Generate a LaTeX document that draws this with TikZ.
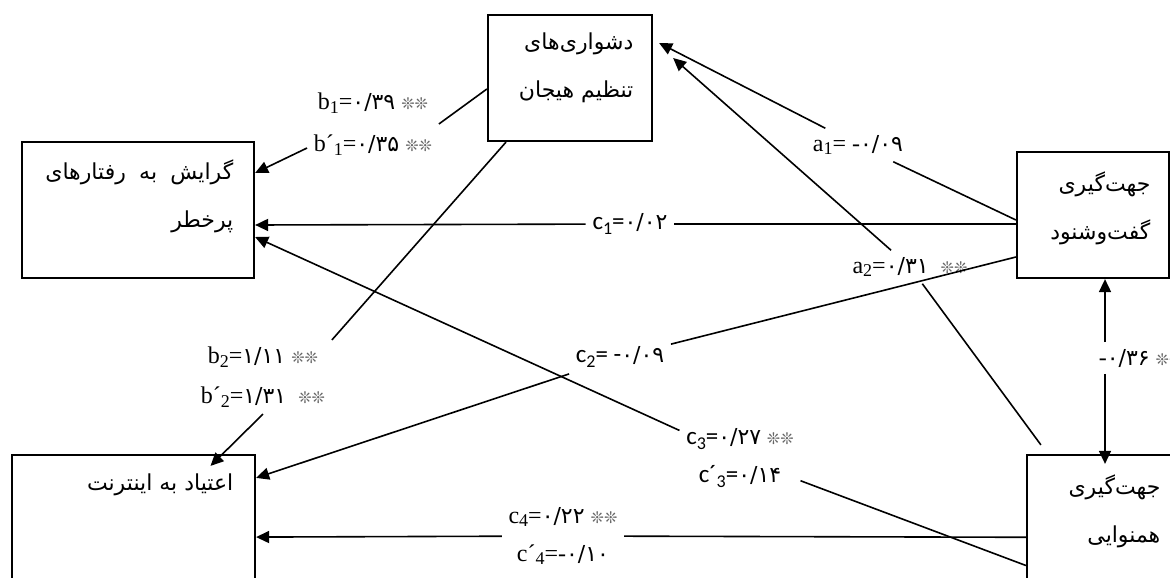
\documentclass[tikz,border=0pt]{standalone}
\usepackage{fontspec}
\setmainfont{Liberation Serif}
\newfontfamily\fafont[Script=Arabic]{DejaVu Sans}
\newfontfamily\calfont{Carlito}
\newfontfamily\starfont{DejaVu Sans}
\TeXXeTstate=1
\usetikzlibrary{positioning,calc,arrows.meta}
\newcommand{\lo}[1]{\raisebox{-0.35ex}{\fontsize{9}{9}\selectfont #1}}
\newcommand{\fanum}[1]{{\fafont\fontsize{11}{11}\selectfont #1}}
\newcommand{\sig}{{\starfont\color{black!60}\fontsize{8}{8}\selectfont ❊❊}}
\tikzset{box/.style  = {rectangle, draw, line width=1.1pt, inner sep=0pt},
         txt/.style  = {inner sep=0pt, align=right, font=\fafont\fontsize{11}{24}\selectfont},
         lab/.style  = {inner sep=3pt, align=center, font=\fontsize{12}{20}\selectfont},
         labc/.style = {lab, font=\calfont\fontsize{12.5}{19}\selectfont}}

\begin{document}
\begin{tikzpicture}[x=0.5pt, y=-0.5pt, line width=0.8pt, >={Triangle[length=6.5pt,width=6pt]}]
    \useasboundingbox (0,0) rectangle (1170,577);
    \clip (0,0) rectangle (1170,577);
    \node[box, minimum width=82pt, minimum height=63pt] (dr) at (570,78) {};
    \node[box, minimum width=116pt, minimum height=68pt] (risk) at (138,210) {};
    \node[box, minimum width=121.5pt, minimum height=82.5pt] (net) at (133.5,537.5) {};
    \node[box, minimum width=76pt, minimum height=63pt] (dg) at (1093,215) {};
    \node[box, minimum width=79pt, minimum height=82.5pt] (cf) at (1106,537.5) {};
    \node[txt, below left=9pt and 9.5pt of dr.north east] (drtxt) {\beginR دشواری‌های\endR\\ \beginR تنظیم هیجان\endR};
    \node[txt, below left=9pt and 10.5pt of risk.north east] (risktxt) {\hbox to 94pt{\beginR گرایش\hfill به\hfill رفتارهای\endR}\\ \beginR پرخطر\endR};
    \node[txt, below left=9.5pt and 11pt of net.north east] (nettxt) {\beginR اعتیاد به اینترنت\endR};
    \node[txt, below left=10pt and 9.5pt of dg.north east] (dgtxt) {\beginR جهت‌گیری\endR\\ \beginR گفت‌وشنود\endR};
    \node[txt, below left=10pt and 12.5pt of cf.north east] (cftxt) {\beginR جهت‌گیری\endR\\ \beginR همنوایی\endR};
    \node[lab] (a1lab) at (858,145) {a\lo{1}= -\fanum{۰/۰۹}};
    \node[lab] (a2lab) at (910,267) {a\lo{2}=\fanum{۰/۳۱}\ \ \sig};
    \node[labc] (c1lab) at (630,224) {c\lo{1}=\fanum{۰/۰۲}};
    \node[labc] (c2lab) at (620,357) {c\lo{2}= -\fanum{۰/۰۹}};
    \node[lab, font=\fontsize{12}{21}\selectfont] (b1lab) at (373,124) {b\lo{1}=\fanum{۰/۳۹} \sig\\ b´\lo{1}=\fanum{۰/۳۵} \sig};
    \node[lab] (b2lab) at (263,377) {b\lo{2}=\fanum{۱/۱۱} \sig\\ b´\lo{2}=\fanum{۱/۳۱}\ \ \sig};
    \node[labc] (c3lab) at (740,458) {c\lo{3}=\fanum{۰/۲۷} \sig\\ c´\lo{3}=\fanum{۰/۱۴}};
    \node[lab, font=\fontsize{12}{19}\selectfont] (c4lab) at (563,536) {c\lo{4}=\fanum{۰/۲۲} \sig\\ c´\lo{4}=-\fanum{۰/۱۰}};
    \node[lab, anchor=west] (rlab) at (1092,358) {-\fanum{۰/۳۶} \sig};
    \coordinate (rtop) at ($(dg.south)+(12,0)$);
    \coordinate (rbot) at ($(cf.north)+(-1,10)$);
    \draw ($(dg.west)+(0,5)$) -- (a1lab);
    \draw[->] (a1lab) -- ($(dr.east)+(6,-35)$);
    \draw ($(cf.north west)+(15,-9)$) -- (a2lab);
    \draw[->] (a2lab) -- ($(dr.east)+(20,-20)$);
    \draw ($(dg.west)+(0,9)$) -- (c1lab);
    \draw[->] (c1lab) -- ($(risk.east)+(0,15)$);
    \draw ($(dg.west)+(0,42)$) -- (c2lab);
    \draw[->] (c2lab) -- ($(net.north east)+(0,24)$);
    \draw ($(cf.west)+(0,28)$) -- (c3lab);
    \draw[->] (c3lab) -- ($(risk.east)+(0,27)$);
    \draw (cf) -- (c4lab);
    \draw[->] (c4lab) -- (net);
    \draw ($(dr.west)+(0,11)$) -- (b1lab.east);
    \draw[->] (b1lab.200) -- ($(risk.east)+(0,-37)$);
    \draw ($(dr.south)+(-64,0)$) -- (b2lab.north east);
    \draw[->] (b2lab.south) -- ($(net.north)+(77,12)$);
    \draw[->] (rlab.north -| rtop) -- (rtop);
    \draw[->] (rlab.south -| rtop) -- (rbot);
\end{tikzpicture}
\end{document}
